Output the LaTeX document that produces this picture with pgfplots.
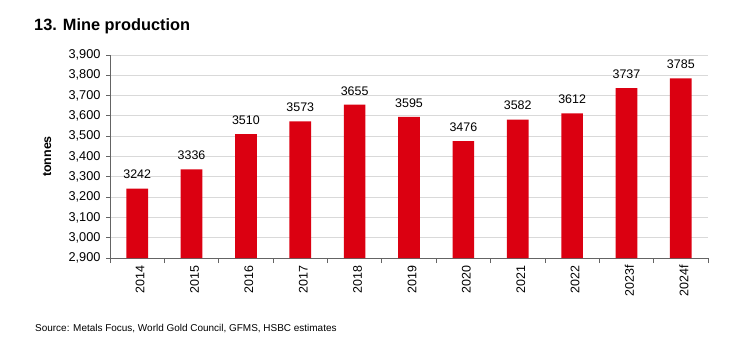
\documentclass[border=0pt]{standalone}
\usepackage{fontspec}
\setmainfont{Liberation Sans}
\usepackage{pgfplots}
\pgfplotsset{compat=1.18}
\definecolor{hsbcred}{RGB}{219,0,17}
\definecolor{axgray}{RGB}{100,100,100}
\definecolor{gridgray}{RGB}{217,217,217}
\begin{document}
\begin{tikzpicture}[x=1bp,y=1bp]
\path[use as bounding box] (0,0) rectangle (747,354);
\node[anchor=base west, font=\fontsize{16.4}{19}\selectfont\bfseries, inner sep=0] at (34,324) {13. Mine production};
\node[anchor=base west, font=\fontsize{10}{12}\selectfont, inner sep=0] at (35,23) {Source: Metals Focus, World Gold Council, GFMS, HSBC  estimates};
\begin{axis}[
  at={(110bp,96bp)}, anchor=south west,
  scale only axis, width=598bp, height=203bp,
  xmin=-0.5, xmax=10.5, ymin=2900, ymax=3900,
  ytick={2900,3000,...,3900},
  xtick={0,...,10},
  xticklabels={2014,2015,2016,2017,2018,2019,2020,2021,2022,2023f,2024f},
  minor xtick={-0.5,0.5,...,10.5},
  axis lines*=left,
  axis line style={axgray, line width=0.8bp},
  tick align=outside,
  major tick length=4bp, minor tick length=5bp,
  major x tick style={draw=none},
  minor x tick style={axgray, line width=0.8bp},
  ytick style={axgray, line width=0.8bp},
  ymajorgrids, grid style={gridgray, line width=0.8bp},
  /pgf/number format/assume math mode=true,
  /pgf/number format/1000 sep={,},
  yticklabel style={font=\fontsize{12.8}{14}\selectfont, xshift=-2bp},
  xticklabel style={font=\fontsize{12.5}{14}\selectfont, rotate=90, anchor=east, yshift=-3bp},
  ylabel={tonnes},
  every axis y label/.style={at={(-63bp,0.5)}, rotate=90, anchor=center, font=\fontsize{12.5}{14}\selectfont\bfseries},
  nodes near coords,
  every node near coord/.append style={font=\fontsize{12.5}{14}\selectfont, black, yshift=6bp},
  point meta=explicit symbolic,
  clip=false,
]
\addplot[ybar, bar width=21.7bp, fill=hsbcred, draw=none] table[meta=label] {
x y label
0 3242 3242
1 3336 3336
2 3510 3510
3 3573 3573
4 3655 3655
5 3595 3595
6 3476 3476
7 3582 3582
8 3612 3612
9 3737 3737
10 3785 3785
};
\end{axis}
\end{tikzpicture}
\end{document}
